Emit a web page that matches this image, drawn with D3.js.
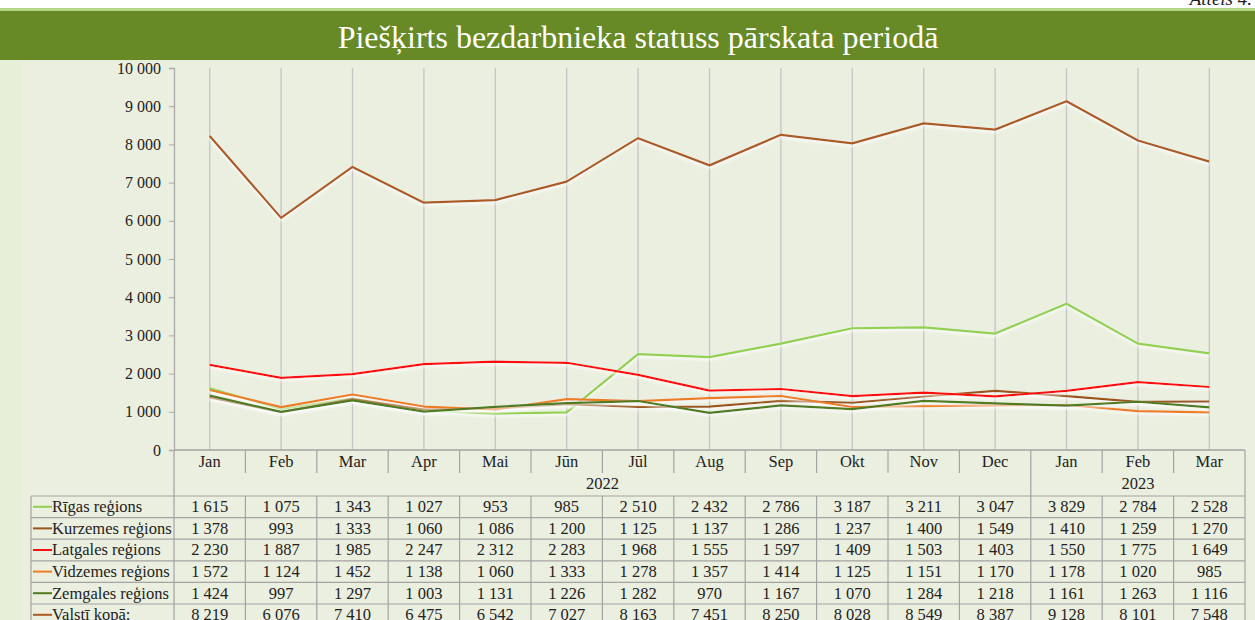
<!DOCTYPE html>
<html>
<head>
<meta charset="utf-8">
<script src="https://cdn.jsdelivr.net/npm/d3@7"></script>
<style>
body{margin:0;background:#fff;}
svg{display:block;font-family:"Liberation Serif","Times New Roman",serif;}
</style>
</head>
<body>
<svg id="chart"></svg>
<script>
var width = 1255;
var height = 620;

// data
var months = ["Jan","Feb","Mar","Apr","Mai","Jūn","Jūl","Aug","Sep","Okt","Nov","Dec","Jan","Feb","Mar"];
var years = [{label:"2022",from:0,to:11},{label:"2023",from:12,to:14}];
var seriesNames = ["Rīgas reģions","Kurzemes reģions","Latgales reģions","Vidzemes reģions","Zemgales reģions","Valstī kopā:"];
var seriesColors = ["#92d050","#9c5419","#ff1010","#ee7d22","#4f7b1c","#ad5a20"];
var rigas    = [1615,1075,1343,1027,953,985,2510,2432,2786,3187,3211,3047,3829,2784,2528];
var kurzemes = [1378,993,1333,1060,1086,1200,1125,1137,1286,1237,1400,1549,1410,1259,1270];
var latgales = [2230,1887,1985,2247,2312,2283,1968,1555,1597,1409,1503,1403,1550,1775,1649];
var vidzemes = [1572,1124,1452,1138,1060,1333,1278,1357,1414,1125,1151,1170,1178,1020,985];
var zemgales = [1424,997,1297,1003,1131,1226,1282,970,1167,1070,1284,1218,1161,1263,1116];
var valsti   = [8219,6076,7410,6475,6542,7027,8163,7451,8250,8028,8549,8387,9128,8101,7548];
var yTicks = [0,1000,2000,3000,4000,5000,6000,7000,8000,9000,10000];

var allSeries = [rigas,kurzemes,latgales,vidzemes,zemgales,valsti];

var lv = d3.formatLocale({decimal:",",thousands:" ",grouping:[3],currency:["",""]});
var fmt = lv.format(",d");

var svg = d3.select("#chart").attr("width",width).attr("height",height);

// backgrounds
svg.append("rect").attr("x",0).attr("y",0).attr("width",width).attr("height",height).attr("fill","#ffffff");
svg.append("rect").attr("x",0).attr("y",60).attr("width",width).attr("height",height-60).attr("fill","#ebefdf");
svg.append("rect").attr("x",0).attr("y",60).attr("width",22).attr("height",height-60).attr("fill","#e6f0d8");
svg.append("rect").attr("x",0).attr("y",8).attr("width",width).attr("height",3).attr("fill","#b4d88a");
svg.append("rect").attr("x",0).attr("y",11).attr("width",width).attr("height",49).attr("fill","#678926");

svg.append("text")
  .attr("x",1252).attr("y",5)
  .attr("text-anchor","end")
  .style("font-style","italic")
  .style("font-size","19px")
  .attr("fill","#222")
  .text("Attēls 4.");

svg.append("text")
  .attr("x",638).attr("y",48)
  .attr("text-anchor","middle")
  .style("font-size","32px")
  .attr("fill","#ffffff")
  .text("Piešķirts bezdarbnieka statuss pārskata periodā");

// scales
var plotLeft = 174, plotRight = 1245, plotTop = 68, plotBottom = 450;
var x = d3.scaleBand().domain(d3.range(months.length)).range([plotLeft,plotRight]);
var y = d3.scaleLinear().domain([0,10000]).range([plotBottom,plotTop]);
var cx = function(i){ return x(i)+x.bandwidth()/2; };

// vertical grid lines at category centres
svg.append("g").selectAll("line")
  .data(d3.range(months.length))
  .enter().append("line")
  .attr("x1",cx).attr("x2",cx)
  .attr("y1",y(10000)).attr("y2",y(0))
  .attr("stroke","#c4c4c4").attr("stroke-width",1.3);

// y axis
var yAxis = d3.axisLeft(y).tickValues(yTicks).tickSize(5).tickPadding(8).tickFormat(fmt);
var gy = svg.append("g").attr("transform",`translate(${plotLeft},0)`).call(yAxis);
gy.select(".domain").attr("stroke","#a8a8a8").attr("stroke-width",1.3);
gy.selectAll(".tick line").attr("stroke","#a8a8a8");
gy.selectAll(".tick text")
  .attr("fill","#222")
  .style("font-family","'Liberation Serif',serif")
  .style("font-size","16px");

// shadow
var defs = svg.append("defs");
var f = defs.append("filter").attr("id","glow").attr("x","-5%").attr("y","-20%").attr("width","110%").attr("height","140%");
f.append("feDropShadow").attr("dx",0).attr("dy",2).attr("stdDeviation",1.4)
  .attr("flood-color","#ffffff").attr("flood-opacity",0.9);

var line = d3.line().x((d,i)=>cx(i)).y(d=>y(d));
svg.append("g").selectAll("path")
  .data(allSeries)
  .enter().append("path")
  .attr("d",line)
  .attr("fill","none")
  .attr("stroke",(d,i)=>seriesColors[i])
  .attr("stroke-width",2.2)
  .attr("stroke-linejoin","round")
  .attr("filter","url(#glow)");

// data table
var gridColor = "#a3a3a3";
var tableLeft = 31;
var rowTop = 496, rowH = 21.6;
var fs = "16.5px";
var t = svg.append("g");

// month header row
t.append("line").attr("x1",plotLeft).attr("x2",plotRight).attr("y1",plotBottom).attr("y2",plotBottom).attr("stroke",gridColor).attr("stroke-width",1.3);
t.selectAll(".mtick")
  .data(d3.range(1,months.length))
  .enter().append("line")
  .attr("x1",d=>x(d)).attr("x2",d=>x(d))
  .attr("y1",plotBottom).attr("y2",d=>years.some(yr=>yr.from===d)?rowTop:473)
  .attr("stroke",gridColor).attr("stroke-width",1.2);
t.selectAll(".mlab")
  .data(months)
  .enter().append("text")
  .attr("x",(d,i)=>cx(i)).attr("y",467)
  .attr("text-anchor","middle")
  .style("font-size",fs).attr("fill","#222")
  .text(d=>d);
t.selectAll(".ylab")
  .data(years)
  .enter().append("text")
  .attr("x",d=>(x(d.from)+x(d.to)+x.bandwidth())/2).attr("y",489)
  .attr("text-anchor","middle")
  .style("font-size",fs).attr("fill","#222")
  .text(d=>d.label);

// body rows
var nRows = allSeries.length;
t.append("line").attr("x1",plotRight).attr("x2",plotRight).attr("y1",plotBottom).attr("y2",height).attr("stroke",gridColor).attr("stroke-width",1.2);
t.append("line").attr("x1",plotLeft).attr("x2",plotLeft).attr("y1",plotBottom).attr("y2",height).attr("stroke","#a8a8a8").attr("stroke-width",1.3);
t.append("line").attr("x1",tableLeft).attr("x2",tableLeft).attr("y1",rowTop).attr("y2",height).attr("stroke",gridColor).attr("stroke-width",1.2);
t.selectAll(".hrow")
  .data(d3.range(nRows+1))
  .enter().append("line")
  .attr("x1",tableLeft).attr("x2",plotRight)
  .attr("y1",d=>rowTop+d*rowH).attr("y2",d=>rowTop+d*rowH)
  .attr("stroke",gridColor).attr("stroke-width",1.2);
t.selectAll(".vcol")
  .data(d3.range(1,months.length))
  .enter().append("line")
  .attr("x1",d=>x(d)).attr("x2",d=>x(d))
  .attr("y1",rowTop).attr("y2",height)
  .attr("stroke",gridColor).attr("stroke-width",1.2);

var rows = t.selectAll(".row")
  .data(allSeries)
  .enter().append("g")
  .attr("transform",(d,i)=>`translate(0,${rowTop+i*rowH})`);
rows.append("line")
  .attr("x1",33).attr("x2",52).attr("y1",rowH/2).attr("y2",rowH/2)
  .attr("stroke",(d,i)=>seriesColors[i]).attr("stroke-width",2);
rows.append("text")
  .attr("x",52).attr("y",rowH/2+5.5)
  .style("font-size",fs).attr("fill","#222")
  .text((d,i)=>seriesNames[i]);
rows.selectAll(".val")
  .data(d=>d)
  .enter().append("text")
  .attr("x",(d,i)=>cx(i)).attr("y",rowH/2+5.5)
  .attr("text-anchor","middle")
  .style("font-size",fs).attr("fill","#222")
  .text(d=>fmt(d));
</script>
</body>
</html>
